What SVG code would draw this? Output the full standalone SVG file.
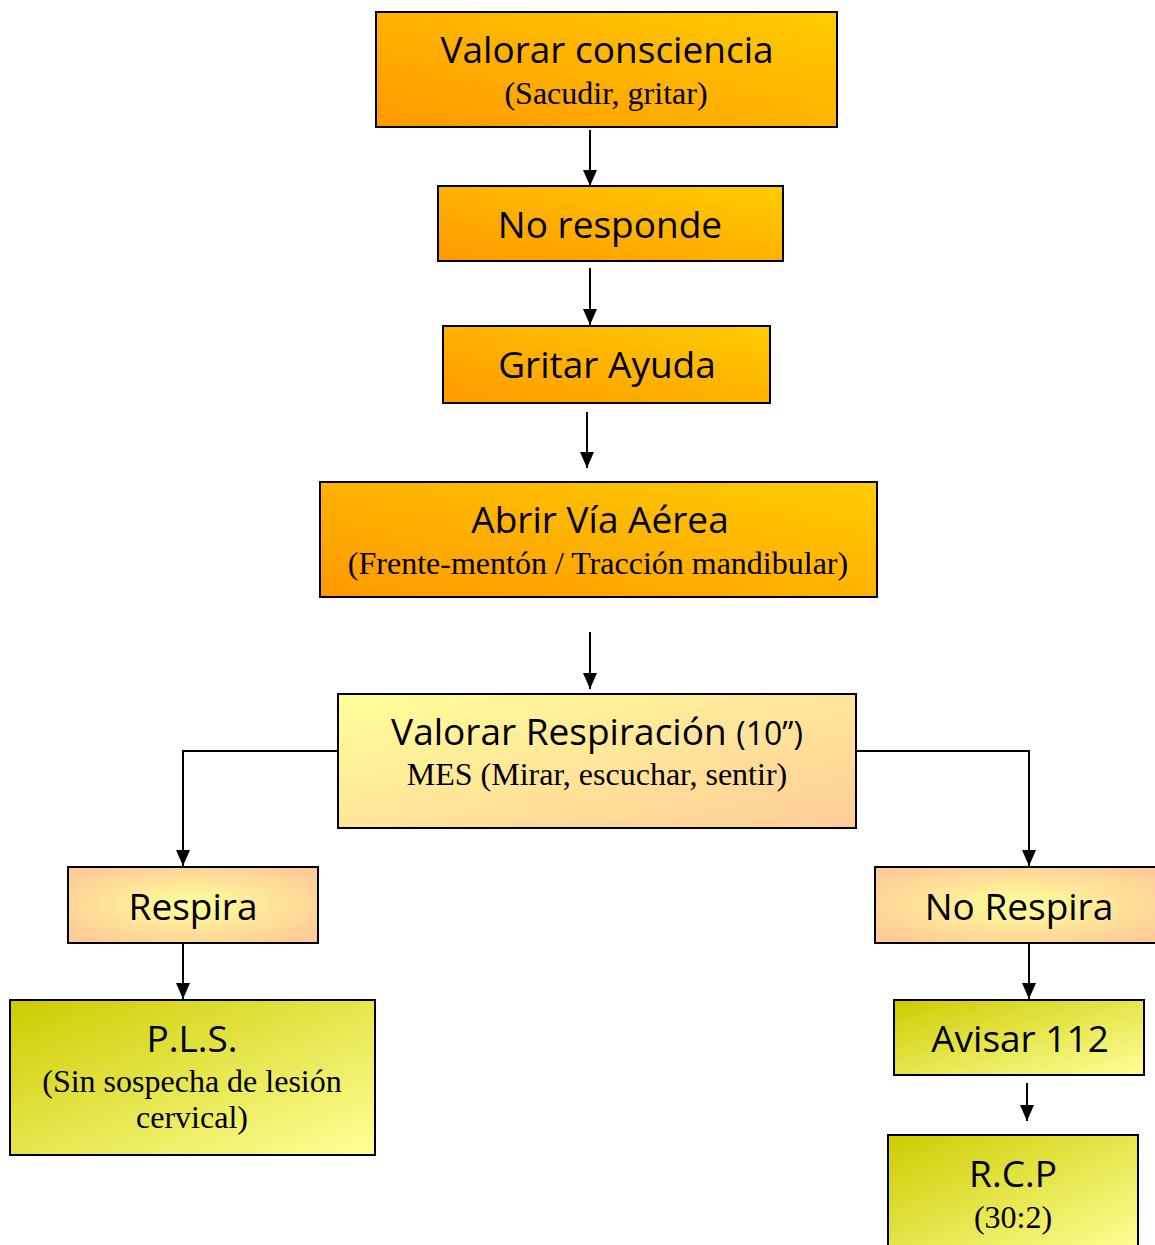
<svg xmlns="http://www.w3.org/2000/svg" width="1155" height="1245" viewBox="0 0 1155 1245">
<defs>
<linearGradient id="gOrange" x1="0" y1="1" x2="1" y2="0">
<stop offset="0" stop-color="#FF9900"/><stop offset="1" stop-color="#FFCC00"/>
</linearGradient>
<linearGradient id="gPeach" x1="0" y1="0" x2="1" y2="1">
<stop offset="0" stop-color="#FFFF99"/><stop offset="1" stop-color="#FFCC99"/>
</linearGradient>
<radialGradient id="gCenter" cx="0.5" cy="0.5" r="0.6">
<stop offset="0" stop-color="#FFFF99"/><stop offset="1" stop-color="#FFCC99"/>
</radialGradient>
<linearGradient id="gGreen" x1="0" y1="0" x2="1" y2="1">
<stop offset="0" stop-color="#CCCC00"/><stop offset="1" stop-color="#FFFF99"/>
</linearGradient>
<marker id="arrow" markerWidth="16" markerHeight="14" refX="16" refY="7" orient="auto" markerUnits="userSpaceOnUse" viewBox="0 0 16 14">
<path d="M0,0 L16,7 L0,14 Z" fill="#000"/>
</marker>
</defs>
<style>
.box{stroke:#000;stroke-width:2}
.t{font-family:"Comic Sans MS","Open Sans","Liberation Sans",sans-serif;font-size:37px;fill:#000;text-anchor:middle}
.s{font-family:"Liberation Serif","Times New Roman",serif;font-size:32px;fill:#000;text-anchor:middle}
.c{fill:none;stroke:#000;stroke-width:2;marker-end:url(#arrow)}
</style>
<g id="connectors">
<path class="c" d="M590,130 V186"/>
<path class="c" d="M590,268 V325"/>
<path class="c" d="M587,412 V468"/>
<path class="c" d="M590,632 V689"/>
<path class="c" d="M338,751 H183 V866"/>
<path class="c" d="M856,751 H1029 V866"/>
<path class="c" d="M183,943 V999"/>
<path class="c" d="M1029,943 V999"/>
<path class="c" d="M1027,1083 V1121"/>
</g>
<g id="n1">
<rect class="box" x="376" y="12" width="461" height="115" fill="url(#gOrange)"/>
<text class="t" x="607" y="63">Valorar consciencia</text>
<text class="s" x="606" y="104">(Sacudir, gritar)</text>
</g>
<g id="n2">
<rect class="box" x="438" y="186" width="345" height="75" fill="url(#gOrange)"/>
<text class="t" x="610" y="238">No responde</text>
</g>
<g id="n3">
<rect class="box" x="443" y="326" width="327" height="77" fill="url(#gOrange)"/>
<text class="t" x="607" y="378">Gritar Ayuda</text>
</g>
<g id="n4">
<rect class="box" x="320" y="482" width="557" height="115" fill="url(#gOrange)"/>
<text class="t" x="600" y="533">Abrir Vía Aérea</text>
<text class="s" x="598" y="574">(Frente-mentón / Tracción mandibular)</text>
</g>
<g id="n5">
<rect class="box" x="338" y="694" width="518" height="134" fill="url(#gPeach)"/>
<text class="t" x="597" y="745">Valorar Respiración <tspan font-size="32">(10”)</tspan></text>
<text class="s" x="597" y="785">MES (Mirar, escuchar, sentir)</text>
</g>
<g id="n6">
<rect class="box" x="68" y="867" width="250" height="76" fill="url(#gCenter)"/>
<text class="t" x="193" y="920">Respira</text>
</g>
<g id="n7">
<rect class="box" x="875" y="867" width="290" height="76" fill="url(#gCenter)"/>
<text class="t" x="1019" y="920">No Respira</text>
</g>
<g id="n8">
<rect class="box" x="10" y="1000" width="365" height="155" fill="url(#gGreen)"/>
<text class="t" x="192" y="1052">P.L.S.</text>
<text class="s" x="192" y="1092">(Sin sospecha de lesión</text>
<text class="s" x="192" y="1128">cervical)</text>
</g>
<g id="n9">
<rect class="box" x="894" y="1000" width="250" height="75" fill="url(#gGreen)"/>
<text class="t" x="1020" y="1052">Avisar 112</text>
</g>
<g id="n10">
<rect class="box" x="888" y="1135" width="250" height="120" fill="url(#gGreen)"/>
<text class="t" x="1013" y="1187">R.C.P</text>
<text class="s" x="1013" y="1228">(30:2)</text>
</g>
</svg>
